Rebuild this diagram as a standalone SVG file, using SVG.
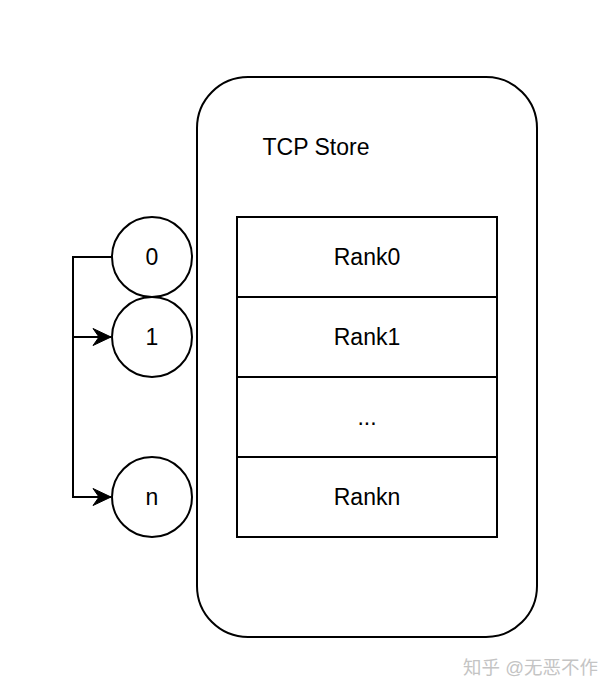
<svg xmlns="http://www.w3.org/2000/svg" width="614" height="694" viewBox="0 0 614 694">
  <defs>
    <style>
      .shape { fill: #ffffff; stroke: #000000; stroke-width: 2; }
      .conn { fill: none; stroke: #000000; stroke-width: 2; }
      .label { font-family: "Liberation Sans", Arial, Helvetica, sans-serif; font-size: 23px; fill: #000000; text-anchor: middle; }
      .wm { font-family: "Liberation Sans", "Noto Sans CJK SC", sans-serif; font-size: 18.5px; fill: #c4c4c4; }
    </style>
    <marker id="arrow" viewBox="0 0 20 20" refX="19" refY="10" markerWidth="20" markerHeight="20" markerUnits="userSpaceOnUse" orient="auto">
      <path d="M1,1.5 L19,10 L1,18.5 L7,10 Z" fill="#000000" stroke="#000000" stroke-width="1"/>
    </marker>
  </defs>
  <rect width="614" height="694" fill="#ffffff"/>

  <g id="tcp-store">
    <rect class="shape" x="197" y="77" width="340" height="560" rx="51" ry="51"/>
    <text class="label" x="316" y="155">TCP Store</text>
  </g>

  <g id="rank0">
    <rect class="shape" x="237" y="217" width="260" height="80"/>
    <text class="label" x="367" y="265">Rank0</text>
  </g>
  <g id="rank1">
    <rect class="shape" x="237" y="297" width="260" height="80"/>
    <text class="label" x="367" y="345">Rank1</text>
  </g>
  <g id="rank-dots">
    <rect class="shape" x="237" y="377" width="260" height="80"/>
    <text class="label" x="367" y="425">...</text>
  </g>
  <g id="rankn">
    <rect class="shape" x="237" y="457" width="260" height="80"/>
    <text class="label" x="367" y="505">Rankn</text>
  </g>

  <g id="node-0">
    <circle class="shape" cx="152" cy="257" r="40"/>
    <text class="label" x="152" y="265">0</text>
  </g>
  <g id="node-1">
    <circle class="shape" cx="152" cy="337" r="40"/>
    <text class="label" x="152" y="345">1</text>
  </g>
  <g id="node-n">
    <circle class="shape" cx="152" cy="497" r="40"/>
    <text class="label" x="152" y="505">n</text>
  </g>

  <g id="connectors">
    <path class="conn" d="M112,257 L73,257 L73,337 L111,337" marker-end="url(#arrow)"/>
    <path class="conn" d="M73,337 L73,497 L111,497" marker-end="url(#arrow)"/>
  </g>

  <text class="wm" x="463" y="674">知乎 @无恶不作</text>
</svg>
